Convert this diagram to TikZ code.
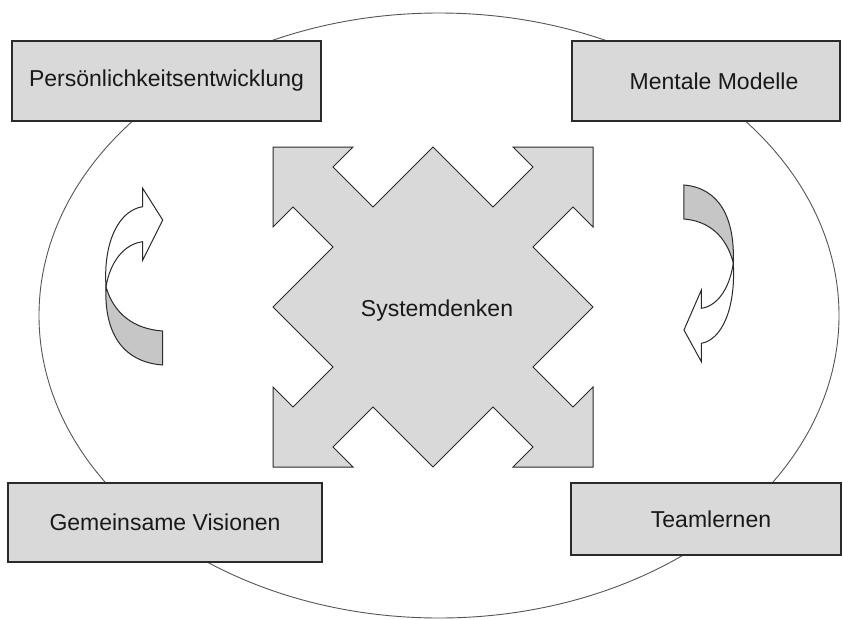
\documentclass[tikz,border=0pt]{standalone}
\usepackage{fontspec}
\setmainfont{Liberation Sans}
\definecolor{boxfill}{HTML}{D9D9D9}
\definecolor{twistgray}{HTML}{C6C6C6}
\definecolor{edge}{HTML}{2A2A2A}
\tikzset{
  labelfont/.style={font=\fontsize{23}{27}\selectfont, text=black!90},
  labelbox/.style={draw=edge, line width=1.3pt, fill=boxfill, inner sep=0pt, labelfont},
  starshape/.style={draw=edge, line width=1pt, fill=boxfill, line join=miter},
  twistback/.style={draw=edge, line width=1pt, fill=twistgray},
  twistfront/.style={draw=edge, line width=1pt, fill=white, line join=miter}
}
\newcommand\mytwistarrow{%
  \draw[twistback]
    (106,287) .. controls (114,314) and (134,329) .. (162.7,331)
    -- (162.7,365) .. controls (122,362) and (104,332) .. (106,287) -- cycle;
  \draw[twistfront]
    (106,287) .. controls (103,240) and (120,210) .. (142.7,206.7)
    -- (142.7,188.3) -- (162.7,220) -- (142.7,260) -- (142.7,241.7)
    .. controls (124,244) and (110,262) .. (106,287) -- cycle;
}
\begin{document}
\begin{tikzpicture}[x=1pt,y=-1pt]
\useasboundingbox (0,0) rectangle (843,619);
% outer ellipse
\draw[draw=edge!80, line width=0.9pt] (439,315.5) ellipse [x radius=400, y radius=302.5];
% central star
\begin{scope}[shift={(433,307)}]
\draw[starshape]
 (-160,-160) -- (-80,-160) -- (-100,-140) -- (-60,-100) -- (0,-160) -- (60,-100)
 -- (100,-140) -- (80,-160) -- (160,-160) -- (160,-80) -- (140,-100) -- (100,-60)
 -- (160,0) -- (100,60) -- (140,100) -- (160,80) -- (160,160) -- (80,160)
 -- (100,140) -- (60,100) -- (0,160) -- (-60,100) -- (-100,140) -- (-80,160)
 -- (-160,160) -- (-160,80) -- (-140,100) -- (-100,60) -- (-160,0) -- (-100,-60)
 -- (-140,-100) -- (-160,-80) -- cycle;
\end{scope}
\node[labelfont] (sys) at (437,311) {Systemdenken};
% twisted arrows
\begin{scope}
\mytwistarrow
\end{scope}
\begin{scope}[shift={(825.5,550)}, xscale=-0.87, yscale=-1]
\mytwistarrow
\end{scope}
% boxes
\node[labelbox, minimum width=309pt, minimum height=80pt] (pers) at (166.5,81) {Persönlichkeitsentwicklung};
\node[labelbox, minimum width=268pt, minimum height=80pt] (ment) at (706,81) {\hspace*{16pt}Mentale Modelle};
\node[labelbox, minimum width=314pt, minimum height=79pt] (gem) at (165,522.5) {Gemeinsame Visionen};
\node[labelbox, minimum width=270pt, minimum height=72pt] (team) at (706,519) {\hspace*{10pt}Teamlernen};
\end{tikzpicture}
\end{document}
